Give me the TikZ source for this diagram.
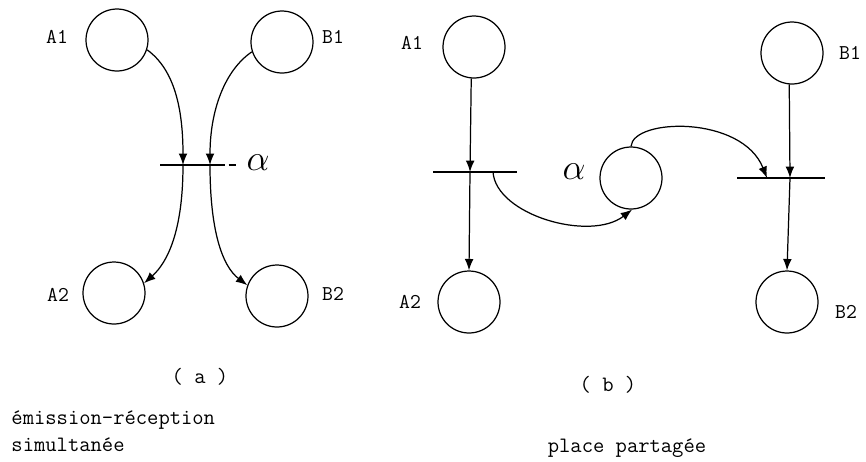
\documentclass[tikz,border=0pt]{standalone}
\usetikzlibrary{arrows.meta}
\begin{document}
\begin{tikzpicture}[x=0.02cm,y=-0.02cm,line width=0.7pt,
  place/.style={draw,circle,minimum size=1.24cm,inner sep=0pt},
  lbl/.style={font=\ttfamily\fontsize{12}{12}\selectfont},
  captxt/.style={font=\ttfamily\fontsize{12.5}{15.5}\selectfont},
  arc/.style={-{Latex[length=6.5pt,width=5pt]}}]
\useasboundingbox (0,0) rectangle (866,461);

% (a) emission-reception simultanee
\node[place] (a1) at (117,40) {};
\node[place] (b1) at (282,42) {};
\node[place] (a2) at (114,293) {};
\node[place] (b2) at (277,296) {};
\node[lbl] (la1) at (57,37) {A1};
\node[lbl] (lb1) at (333,37) {B1};
\node[lbl] (la2) at (58,295) {A2};
\node[lbl] (lb2) at (333,294) {B2};
\coordinate (ta) at (183,165);
\coordinate (tb) at (210,165);
\coordinate (tw) at (160,165);
\coordinate (tm) at (218,165);
\coordinate (te) at (237,165);
\draw (tw) -- (tm);
\draw[dashed,dash pattern=on 4pt off 2pt] (tm) -- (te);
\node (alpha) at (258,163) {\huge$\alpha$};
\draw[arc] (a1.-18) .. controls (175,70) and (183,110) .. (ta);
\draw[arc] (ta) .. controls (183,230) and (168,262) .. (a2.18);
\draw[arc] (b1.198) .. controls (225,70) and (210,110) .. (tb);
\draw[arc] (tb) .. controls (210,230) and (222,266) .. (b2.160);

% (b) place partagee
\node[place] (c1) at (474,47) {};
\node[place] (c2) at (469,302) {};
\node[place] (d1) at (792,53) {};
\node[place] (d2) at (787,302) {};
\node[place] (sh) at (631,178) {};
\node[lbl] (lc1) at (412,43) {A1};
\node[lbl] (lc2) at (410,302) {A2};
\node[lbl] (ld1) at (850,53) {B1};
\node[lbl] (ld2) at (846,312) {B2};
\node (beta) at (574,172) {\huge$\alpha$};
\coordinate (tc) at (470,172);
\coordinate (tcw) at (433,172);
\coordinate (tce) at (517,172);
\coordinate (tco) at (493,172);
\coordinate (td) at (790,178);
\coordinate (tdw) at (737,178);
\coordinate (tde) at (825,178);
\coordinate (tdi) at (767,178);
\draw (tcw) -- (tce);
\draw (tdw) -- (tde);
\draw[arc] (c1.-95) -- (tc);
\draw[arc] (tc) -- (c2.north);
\draw[arc] (d1.-95) -- (td);
\draw[arc] (td) -- (d2.north);
\draw[arc] (tco) .. controls (496,215) and (590,242) .. (sh.-88);
\draw[arc] (sh.north) .. controls (633,118) and (742,115) .. (tdi);

% legends
\node[captxt] (capa) at (200,377) {( a )};
\node[captxt] (capb) at (608,385) {( b )};
\node[captxt,align=left,anchor=west] (txta) at (5,431) {émission-réception\\simultanée};
\node[captxt] (txtb) at (627,448) {place partagée};
\end{tikzpicture}
\end{document}
